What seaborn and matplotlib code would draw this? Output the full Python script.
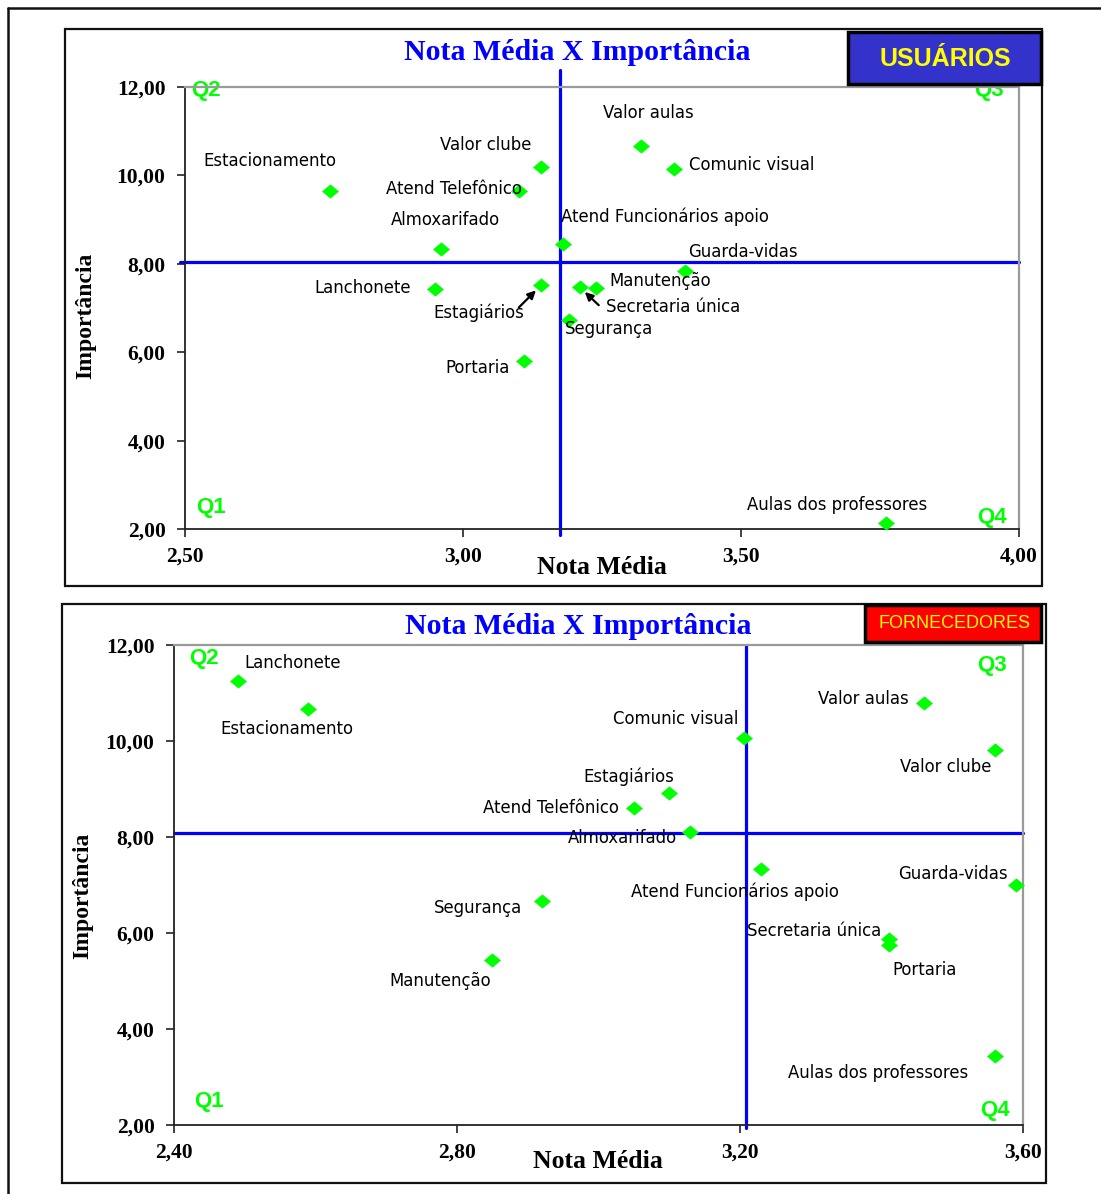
import matplotlib
matplotlib.use("Agg")
import matplotlib.pyplot as plt
from matplotlib.patches import Rectangle
from matplotlib.lines import Line2D
from matplotlib.ticker import FuncFormatter, FixedLocator
import seaborn as sns
import pandas as pd

# ---------------- data: USUÁRIOS ----------------
usu_itens = [
    "Estacionamento", "Valor clube", "Atend Telefônico", "Almoxarifado",
    "Atend Funcionários apoio", "Lanchonete", "Estagiários", "Segurança",
    "Portaria", "Valor aulas", "Comunic visual", "Guarda-vidas",
    "Manutenção", "Secretaria única", "Aulas dos professores",
]
usu_nota = [2.76, 3.14, 3.10, 2.96, 3.18, 2.95, 3.14, 3.19,
            3.11, 3.32, 3.38, 3.40, 3.24, 3.21, 3.76]
usu_importancia = [9.65, 10.18, 9.64, 8.34, 8.45, 7.42, 7.51, 6.72,
                   5.79, 10.66, 10.14, 7.84, 7.46, 7.47, 2.14]
usu_corte_nota = 3.174
usu_corte_importancia = 8.05
usu_xticks = [2.50, 3.00, 3.50, 4.00]

# ---------------- data: FORNECEDORES ----------------
forn_itens = [
    "Lanchonete", "Estacionamento", "Comunic visual", "Valor aulas",
    "Valor clube", "Estagiários", "Atend Telefônico", "Almoxarifado",
    "Atend Funcionários apoio", "Guarda-vidas", "Segurança",
    "Secretaria única", "Portaria", "Manutenção", "Aulas dos professores",
]
forn_nota = [2.49, 2.59, 3.205, 3.46, 3.56, 3.10, 3.05, 3.13,
             3.23, 3.59, 2.92, 3.41, 3.41, 2.85, 3.56]
forn_importancia = [11.24, 10.66, 10.07, 10.80, 9.81, 8.92, 8.61, 8.10,
                    7.33, 6.99, 6.67, 5.88, 5.76, 5.44, 3.44]
forn_corte_nota = 3.208
forn_corte_importancia = 8.09
forn_xticks = [2.40, 2.80, 3.20, 3.60]

yticks = [2, 4, 6, 8, 10, 12]

# label placement: (dx, dy) in pixels from the marker (dy downward), alignment
usu_rotulos = {
    "Estacionamento": (-60, -30, "center"),
    "Valor clube": (-55, -22, "center"),
    "Atend Telefônico": (-65, -2, "center"),
    "Almoxarifado": (5, -29, "center"),
    "Atend Funcionários apoio": (-2, -27, "left"),
    "Lanchonete": (-24, -1, "right"),
    "Estagiários": (-62, 27, "center"),
    "Segurança": (-4, 9, "left"),
    "Portaria": (-14, 7, "right"),
    "Valor aulas": (7, -33, "center"),
    "Comunic visual": (15, -4, "left"),
    "Guarda-vidas": (3, -19, "left"),
    "Manutenção": (13, -7, "left"),
    "Secretaria única": (26, 20, "left"),
    "Aulas dos professores": (-48, -18, "center"),
}
usu_setas = {
    "Estagiários": (-22, 22),
    "Secretaria única": (19, 18),
}
forn_rotulos = {
    "Lanchonete": (7, -18, "left"),
    "Estacionamento": (-22, 20, "center"),
    "Comunic visual": (-5, -19, "right"),
    "Valor aulas": (-15, -4, "right"),
    "Valor clube": (-3, 17, "right"),
    "Estagiários": (-40, -16, "center"),
    "Atend Telefônico": (-15, 0, "right"),
    "Almoxarifado": (-13, 6, "right"),
    "Atend Funcionários apoio": (-26, 23, "center"),
    "Guarda-vidas": (-8, -11, "right"),
    "Segurança": (-20, 7, "right"),
    "Secretaria única": (-7, -8, "right"),
    "Portaria": (4, 25, "left"),
    "Manutenção": (-52, 21, "center"),
    "Aulas dos professores": (-117, 17, "center"),
}

sns.set_style("white")
plt.rcParams["font.family"] = ["DejaVu Sans"]
plt.rcParams["text.color"] = "black"
plt.rcParams["axes.labelcolor"] = "black"

W, H = 1101, 1194
fig = plt.figure(figsize=(W / 100, H / 100), dpi=100)

SERIF = "Liberation Serif"
VERDE = "#00FF00"
AZUL = "#0000FF"
diamante = [(-1.2, 0), (0, 1), (1.2, 0), (0, -1), (-1.2, 0)]


def fx(px):
    return px / W


def fy(py):
    return 1 - py / H


def moldura(x0, y0, x1, y1, lw=1.6):
    fig.patches.append(Rectangle((fx(x0), fy(y1)), fx(x1) - fx(x0), fy(y0) - fy(y1),
                                 transform=fig.transFigure, facecolor="none",
                                 edgecolor="#111111", linewidth=lw, zorder=1))


def virgula(v, _pos):
    return f"{v:.2f}".replace(".", ",")


def painel(rect, itens, nota, imp, cx, cy, xticks, rotulos, setas, quads, vlim, hlim,
           xlab_pos, ylab_pos):
    ax = fig.add_axes(rect)
    df = pd.DataFrame({"item": itens, "nota": nota, "imp": imp})
    ax.axvline(cx, ymin=vlim[0], ymax=vlim[1], color=AZUL, lw=2.3, clip_on=False, zorder=2)
    ax.axhline(cy, xmin=hlim[0], xmax=hlim[1], color=AZUL, lw=2.3, clip_on=False, zorder=2)
    sns.scatterplot(data=df, x="nota", y="imp", ax=ax, marker=diamante, s=150,
                    color=VERDE, linewidth=0, legend=False, zorder=3, clip_on=False)
    ax.set_xlim(xticks[0], xticks[-1])
    ax.set_ylim(2, 12)
    ax.xaxis.set_major_locator(FixedLocator(xticks))
    ax.yaxis.set_major_locator(FixedLocator(yticks))
    ax.xaxis.set_major_formatter(FuncFormatter(virgula))
    ax.yaxis.set_major_formatter(FuncFormatter(virgula))
    ax.tick_params(axis="both", which="major", direction="out", length=6, width=1.2,
                   color="#222222", bottom=True, left=True)
    ax.tick_params(axis="y", pad=8)
    ax.tick_params(axis="x", pad=7)
    for lab in ax.get_xticklabels() + ax.get_yticklabels():
        lab.set_fontfamily(SERIF)
        lab.set_fontweight("bold")
        lab.set_fontsize(15.5)
        lab.set_color("black")
    for s in ("left", "bottom"):
        ax.spines[s].set_color("#222222")
        ax.spines[s].set_linewidth(1.3)
    for s in ("top", "right"):
        ax.spines[s].set_color("#9a9a9a")
        ax.spines[s].set_linewidth(1.6)
    ax.set_xlabel("Nota Média", fontfamily=SERIF, fontweight="bold", fontsize=18.5,
                  color="black")
    ax.set_ylabel("Importância", fontfamily=SERIF, fontweight="bold", fontsize=17,
                  color="black")
    ax.xaxis.set_label_coords(*xlab_pos)
    ax.xaxis.label.set_va("center")
    ax.yaxis.set_label_coords(*ylab_pos)
    ax.yaxis.label.set_va("center")

    for it, x, y in zip(itens, nota, imp):
        dx, dy, ha = rotulos[it]
        ax.annotate(it, (x, y), xytext=(dx, -dy), textcoords="offset pixels",
                    ha=ha, va="center", fontsize=11.9, color="black", zorder=4)
        if it in setas:
            sx, sy = setas[it]
            ax.annotate("", (x, y), xytext=(sx, -sy), textcoords="offset pixels",
                        arrowprops=dict(arrowstyle="-|>", color="black", lw=1.6,
                                        mutation_scale=12, shrinkA=0, shrinkB=5),
                        zorder=4)

    for txt, (qx, qy) in quads.items():
        ax.text(qx, qy, txt, transform=ax.transAxes, ha="center", va="center",
                fontfamily="Liberation Sans", fontweight="bold", fontsize=16,
                color=VERDE, zorder=1)
    return ax


# outer frame
fig.lines.append(Line2D([fx(8), 1], [fy(8), fy(8)], transform=fig.transFigure,
                        color="#111111", lw=1.8))
fig.lines.append(Line2D([fx(8), fx(8)], [fy(8), 0], transform=fig.transFigure,
                        color="#111111", lw=1.8))

# panel frames
moldura(65, 29, 1042, 586)
moldura(62, 604, 1046, 1183)

# upper chart: USUÁRIOS
ax1 = painel([fx(185), fy(529), fx(1019) - fx(185), fy(87) - fy(529)],
             usu_itens, usu_nota, usu_importancia, usu_corte_nota, usu_corte_importancia,
             usu_xticks, usu_rotulos, usu_setas,
             {"Q2": (0.025, 0.991), "Q3": (0.964, 0.993), "Q1": (0.031, 0.048),
              "Q4": (0.968, 0.027)},
             (-0.014, 1.038), (-0.006, 1.0), (0.5, -0.086), (-0.119, 0.482))

# lower chart: FORNECEDORES
ax2 = painel([fx(174), fy(1125), fx(1023) - fx(174), fy(645) - fy(1125)],
             forn_itens, forn_nota, forn_importancia, forn_corte_nota,
             forn_corte_importancia, forn_xticks, forn_rotulos, {},
             {"Q2": (0.035, 0.971), "Q3": (0.963, 0.958), "Q1": (0.041, 0.048),
              "Q4": (0.967, 0.031)},
             (-0.006, 1.0), (0.0, 1.0), (0.499, -0.075), (-0.107, 0.477))

# titles
for tx, ty in ((577, 52), (578, 627)):
    fig.text(fx(tx), fy(ty), "Nota Média X Importância", ha="center", va="center",
             fontfamily=SERIF, fontweight="bold", fontsize=21.5, color=AZUL)

# group tags
fig.patches.append(Rectangle((fx(848), fy(84)), fx(1041) - fx(848), fy(32) - fy(84),
                             transform=fig.transFigure, facecolor="#3333CC",
                             edgecolor="black", linewidth=2.5, zorder=10))
fig.text(fx(945), fy(59), "USUÁRIOS", ha="center", va="center",
         fontfamily=["Liberation Sans Narrow", "Liberation Sans"], fontweight="bold",
         fontsize=18, color="#FFFF00", zorder=11)
fig.patches.append(Rectangle((fx(865), fy(642)), fx(1041) - fx(865), fy(605) - fy(642),
                             transform=fig.transFigure, facecolor="#FF0000",
                             edgecolor="black", linewidth=2.5, zorder=10))
fig.text(fx(954), fy(624), "FORNECEDORES", ha="center", va="center",
         fontfamily=["Liberation Sans Narrow", "Liberation Sans"],
         fontsize=13, color="#FFFF00", zorder=11)

fig.savefig("out.png", dpi=100)
